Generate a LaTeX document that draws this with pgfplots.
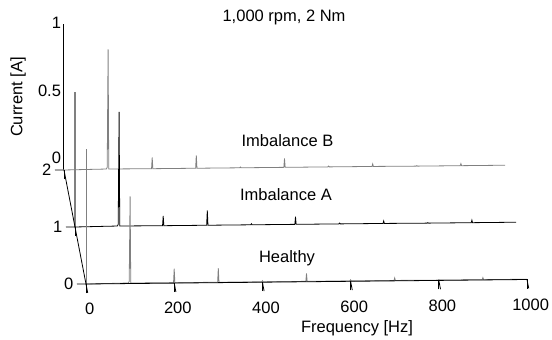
\documentclass[border=0pt]{standalone}
\usepackage{pgfplots}
\pgfplotsset{compat=1.18}
\usepackage{fontspec}
\setmainfont{Liberation Sans}
\newcommand\fs{\fontsize{16.5}{19.8}\selectfont}
\definecolor{sgray}{RGB}{128,128,128}
\begin{document}
\begin{tikzpicture}
\path[use as bounding box] (-86pt,-56pt) rectangle (466pt,284pt);
\pgfplotsset{myunits/.style={x={(0.441pt,0.0045pt)}, y={(-11pt,57pt)}, z={(0pt,135pt)}}}
\begin{axis}[myunits, anchor=origin, at={(0pt,0pt)},
  xmin=0,xmax=1000,ymin=0,ymax=2,zmin=0,zmax=1.074,
  axis x line=left, axis y line=left, axis z line=none,
  axis line style={-, black, line width=0.8pt},
  xtick={0,200,...,1000}, ytick={0,1,2}, ztick=\empty,
  tick align=outside, major tick length=9pt,
  tick style={black, line width=0.8pt},
  tick label style={font=\fs},
  x tick label style={yshift=-7pt, xshift=1pt},
  y tick label style={yshift=9pt},
  /pgf/number format/assume math mode=true,
  /pgf/number format/1000 sep={},
  xlabel={Frequency [Hz]}, label style={font=\fs},
  xlabel style={at={(axis cs:614.5,0,-0.3464)}, anchor=center},
  clip=false, axis on top,
]
% Imbalance B (k=2)
\addplot3[sgray, line width=1pt] coordinates {(0,2,0) (0,2,1.0)};
\addplot3[sgray, line width=0.8pt] coordinates {
(0,2,0) (96,2,0.004) (98,2,0.016) (100,2,0.89) (101.5,2,0.004)
(198.5,2,0.003) (200,2,0.086) (201.5,2,0.003)
(298.5,2,0.003) (300,2,0.099) (301.5,2,0.003)
(398.5,2,0.003) (400,2,0.009) (401.5,2,0.003)
(498.5,2,0.003) (500,2,0.069) (501.5,2,0.003)
(598.5,2,0.003) (600,2,0.009) (601.5,2,0.003)
(698.5,2,0.003) (700,2,0.0215) (701.5,2,0.003)
(798.5,2,0.002) (800,2,0.0054) (801.5,2,0.002)
(898.5,2,0.002) (900,2,0.017) (901.5,2,0.002)
(1000,2,0.002)};
% Imbalance A (k=1)
\addplot3[sgray, line width=1.2pt] coordinates {(0,1,0) (0,1,1.0)};
\addplot3[black, line width=0.8pt] coordinates {
(0,1,0) (96,1,0.004) (98,1,0.016) (100,1,0.85) (101.5,1,0.004)
(198.5,1,0.003) (200,1,0.075) (201.5,1,0.003)
(298.5,1,0.003) (300,1,0.113) (301.5,1,0.003)
(398.5,1,0.003) (400,1,0.011) (401.5,1,0.003)
(498.5,1,0.003) (500,1,0.059) (501.5,1,0.003)
(598.5,1,0.003) (600,1,0.009) (601.5,1,0.003)
(698.5,1,0.003) (700,1,0.0215) (701.5,1,0.003)
(798.5,1,0.002) (800,1,0.0054) (801.5,1,0.002)
(898.5,1,0.002) (900,1,0.0215) (901.5,1,0.002)
(1000,1,0.002)};
% Healthy (k=0)
\addplot3[sgray, line width=0.8pt] coordinates {(0,0,0) (0,0,1.0)};
\addplot3[sgray, line width=0.8pt] coordinates {
(0,0,0) (96,0,0.004) (98,0,0.016) (100,0,0.645) (101.5,0,0.004)
(198.5,0,0.003) (200,0,0.107) (201.5,0,0.003)
(298.5,0,0.003) (300,0,0.107) (301.5,0,0.003)
(398.5,0,0.003) (400,0,0.011) (401.5,0,0.003)
(498.5,0,0.003) (500,0,0.061) (501.5,0,0.003)
(598.5,0,0.003) (600,0,0.011) (601.5,0,0.003)
(698.5,0,0.003) (700,0,0.0215) (701.5,0,0.003)
(798.5,0,0.002) (800,0,0.0054) (801.5,0,0.002)
(898.5,0,0.002) (900,0,0.017) (901.5,0,0.002)
(1000,0,0.002)};
\node[font=\fs] at (axis cs:449,0,1.963) {1,000 rpm, 2 Nm};
\node[font=\fs] at (axis cs:456.9,0,1.044) {Imbalance B};
\node[font=\fs] at (axis cs:453.5,0,0.644) {Imbalance A};
\node[font=\fs] at (axis cs:455.8,0,0.1774) {Healthy};
\end{axis}
\begin{axis}[myunits, anchor=origin, at={(-22pt,114pt)},
  xmin=0,xmax=1,ymin=0,ymax=0.01,zmin=0,zmax=1.074,
  axis x line=none, axis y line=none, axis z line=left,
  axis line style={-, black, line width=0.8pt},
  xtick=\empty, ytick=\empty, ztick={0,0.5,1},
  z tick style={draw=none},
  z tick label style={font=\fs, anchor=south east, xshift=1pt},
  /pgf/number format/assume math mode=true,
  clip=false,
]
\node[font=\fs, rotate=90] at (axis cs:-104.3,0,0.544) {Current [A]};
\end{axis}
\end{tikzpicture}
\end{document}
